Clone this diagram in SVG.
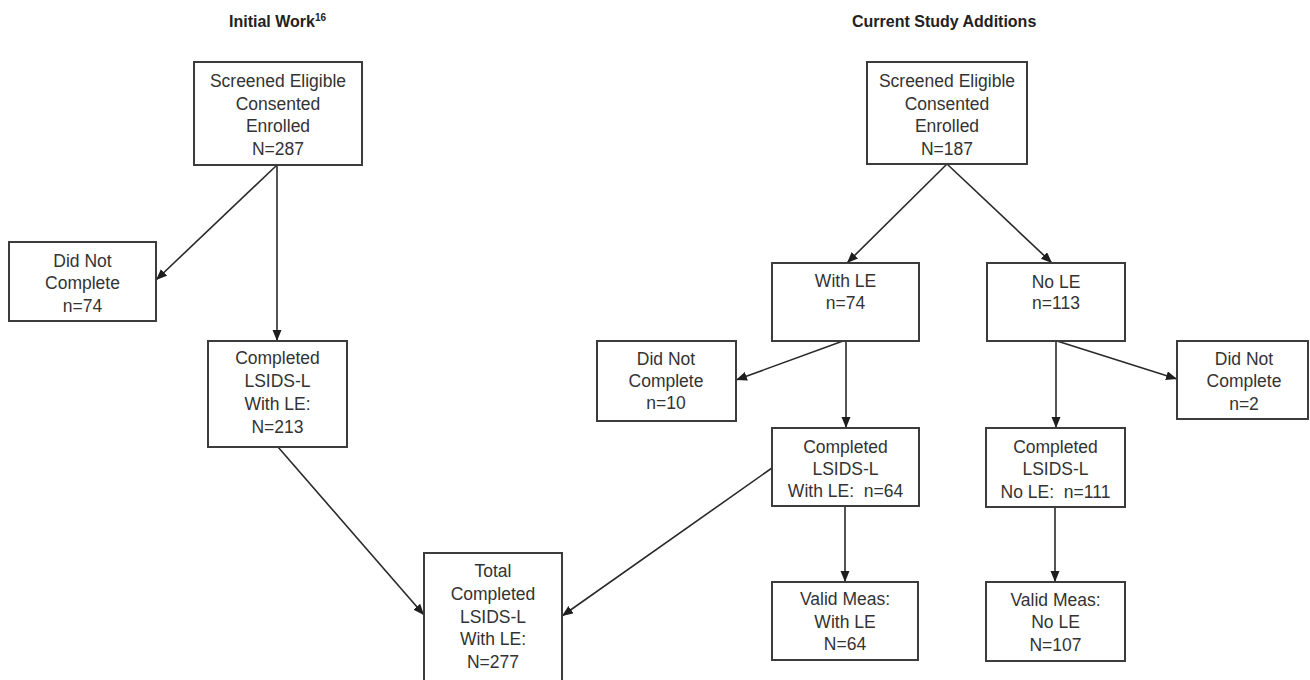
<svg xmlns="http://www.w3.org/2000/svg" width="1310" height="680" viewBox="0 0 1310 680">
<style>
  .box { fill: #ffffff; stroke: #3c3c3c; stroke-width: 2; }
  .lbl { font-family: "Liberation Sans", Arial, sans-serif; font-size: 17.5px; fill: #333333; text-anchor: middle; white-space: pre; }
  .ttl { font-family: "Liberation Sans", Arial, sans-serif; font-size: 16px; font-weight: bold; fill: #222222; }
  .con { stroke: #2a2a2a; stroke-width: 1.6; fill: none; marker-end: url(#arr); }
</style>
<defs>
  <marker id="arr" markerUnits="userSpaceOnUse" markerWidth="12" markerHeight="10" refX="11" refY="4.5" orient="auto">
    <path d="M0,0 L11,4.5 L0,9 z" fill="#1e1e1e"/>
  </marker>
</defs>
<rect x="0" y="0" width="1310" height="680" fill="#ffffff"/>

<g id="titles">
  <text class="ttl" x="229" y="27">Initial Work<tspan font-size="10" dy="-6">16</tspan></text>
  <text class="ttl" x="852" y="27">Current Study Additions</text>
</g>

<g id="connectors">
  <line class="con" x1="277" y1="165" x2="156" y2="280"/>
  <line class="con" x1="277" y1="165" x2="277" y2="341"/>
  <line class="con" x1="278" y1="447" x2="424" y2="615"/>
  <line class="con" x1="772" y1="468" x2="562" y2="616"/>
  <line class="con" x1="947" y1="164" x2="847" y2="263"/>
  <line class="con" x1="947" y1="164" x2="1052" y2="263"/>
  <line class="con" x1="843" y1="341" x2="736" y2="380"/>
  <line class="con" x1="846" y1="341" x2="846" y2="428"/>
  <line class="con" x1="1057" y1="341" x2="1177" y2="379"/>
  <line class="con" x1="1056" y1="341" x2="1056" y2="428"/>
  <line class="con" x1="845" y1="506" x2="845" y2="582"/>
  <line class="con" x1="1055" y1="507" x2="1055" y2="582"/>
</g>

<g id="n1">
  <rect class="box" x="194" y="62" width="168" height="103"/>
  <text class="lbl" x="278" y="87">Screened Eligible</text>
  <text class="lbl" x="278" y="110">Consented</text>
  <text class="lbl" x="278" y="132">Enrolled</text>
  <text class="lbl" x="278" y="155">N=287</text>
</g>
<g id="n2">
  <rect class="box" x="9" y="242" width="147" height="79"/>
  <text class="lbl" x="82.5" y="267">Did Not</text>
  <text class="lbl" x="82.5" y="289">Complete</text>
  <text class="lbl" x="82.5" y="312">n=74</text>
</g>
<g id="n3">
  <rect class="box" x="208" y="341" width="139" height="106"/>
  <text class="lbl" x="277.5" y="364">Completed</text>
  <text class="lbl" x="277.5" y="387">LSIDS-L</text>
  <text class="lbl" x="277.5" y="410">With LE:</text>
  <text class="lbl" x="277.5" y="433">N=213</text>
</g>
<g id="n4">
  <rect class="box" x="424" y="553" width="138" height="140"/>
  <text class="lbl" x="493" y="577">Total</text>
  <text class="lbl" x="493" y="600">Completed</text>
  <text class="lbl" x="493" y="623">LSIDS-L</text>
  <text class="lbl" x="493" y="645">With LE:</text>
  <text class="lbl" x="493" y="668">N=277</text>
</g>

<g id="n5">
  <rect class="box" x="867" y="62" width="160" height="102"/>
  <text class="lbl" x="947" y="87">Screened Eligible</text>
  <text class="lbl" x="947" y="110">Consented</text>
  <text class="lbl" x="947" y="132">Enrolled</text>
  <text class="lbl" x="947" y="155">N=187</text>
</g>
<g id="n6">
  <rect class="box" x="772" y="263" width="147" height="78"/>
  <text class="lbl" x="845.5" y="287">With LE</text>
  <text class="lbl" x="845.5" y="309">n=74</text>
</g>
<g id="n7">
  <rect class="box" x="987" y="263" width="138" height="78"/>
  <text class="lbl" x="1056" y="288">No LE</text>
  <text class="lbl" x="1056" y="309">n=113</text>
</g>
<g id="n8">
  <rect class="box" x="597" y="341" width="139" height="80"/>
  <text class="lbl" x="666" y="365">Did Not</text>
  <text class="lbl" x="666" y="387">Complete</text>
  <text class="lbl" x="666" y="409">n=10</text>
</g>
<g id="n9">
  <rect class="box" x="1177" y="341" width="131" height="78"/>
  <text class="lbl" x="1244" y="365">Did Not</text>
  <text class="lbl" x="1244" y="387">Complete</text>
  <text class="lbl" x="1244" y="410">n=2</text>
</g>
<g id="n10">
  <rect class="box" x="772" y="428" width="147" height="78"/>
  <text class="lbl" x="845.5" y="453">Completed</text>
  <text class="lbl" x="845.5" y="475">LSIDS-L</text>
  <text class="lbl" x="845.5" y="497">With LE:  n=64</text>
</g>
<g id="n11">
  <rect class="box" x="986" y="428" width="139" height="79"/>
  <text class="lbl" x="1055.5" y="453">Completed</text>
  <text class="lbl" x="1055.5" y="475">LSIDS-L</text>
  <text class="lbl" x="1055.5" y="498">No LE:  n=111</text>
</g>
<g id="n12">
  <rect class="box" x="772" y="582" width="146" height="78"/>
  <text class="lbl" x="845" y="605">Valid Meas:</text>
  <text class="lbl" x="845" y="628">With LE</text>
  <text class="lbl" x="845" y="650">N=64</text>
</g>
<g id="n13">
  <rect class="box" x="986" y="582" width="139" height="79"/>
  <text class="lbl" x="1055.5" y="606">Valid Meas:</text>
  <text class="lbl" x="1055.5" y="628">No LE</text>
  <text class="lbl" x="1055.5" y="651">N=107</text>
</g>
</svg>
